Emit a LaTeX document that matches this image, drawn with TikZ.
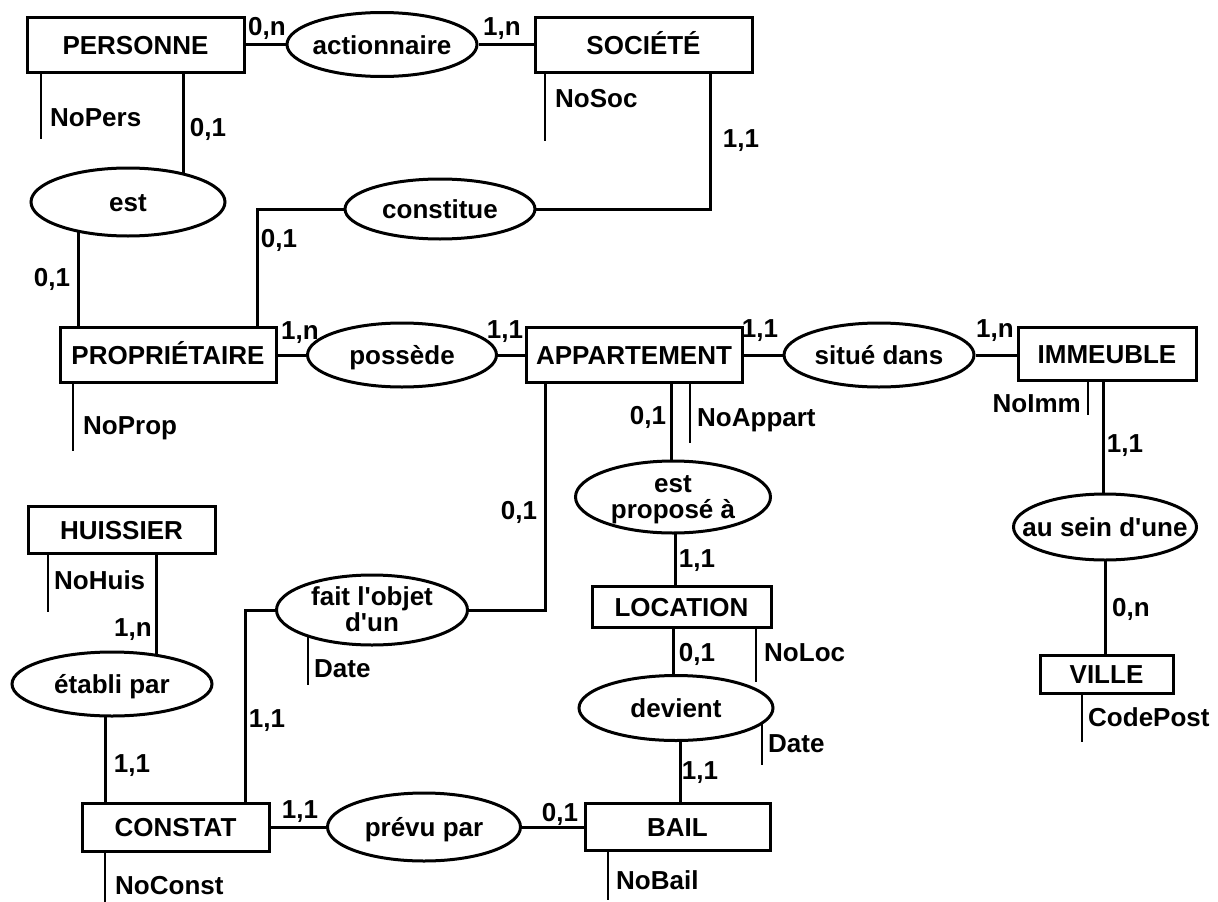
\documentclass[tikz,border=0pt]{standalone}
\usepackage{fontspec}
\setmainfont{Liberation Sans}
\usetikzlibrary{shapes.geometric,backgrounds}
\newcommand\dfont{\fontsize{26}{23}\selectfont\bfseries}
\newcommand\rt[1]{\makebox[0pt]{\begin{tabular}[b]{@{}c@{}}#1\end{tabular}}}
\tikzset{
  ent/.style={draw, line width=3pt, fill=white, inner sep=0pt, font=\dfont, text height=19pt, text depth=0pt},
  rel/.style={ellipse, draw, line width=3pt, fill=white, inner sep=0pt, font=\dfont, text height=19pt, text depth=0pt},
  tworow/.style={text height=42pt},
  link/.style={line width=3pt},
  attrline/.style={line width=1.5pt},
  card/.style={inner sep=0pt, font=\dfont, text height=19pt, text depth=0pt},
  attr/.style={inner sep=0pt, anchor=west, font=\dfont, text height=19pt, text depth=0pt}
}
\begin{document}
\begin{tikzpicture}[x=1pt,y=-1pt]
\useasboundingbox (0,0) rectangle (1218,902);
% entities
\node[ent, minimum width=217pt, minimum height=55pt] (personne) at (135.5,44.5) {PERSONNE};
\node[ent, minimum width=217pt, minimum height=55pt] (societe) at (643.5,44.5) {SOCIÉTÉ};
\node[ent, minimum width=216pt, minimum height=55pt] (proprio) at (168,355) {PROPRIÉTAIRE};
\node[ent, minimum width=216pt, minimum height=55pt] (appart) at (634,355) {APPARTEMENT};
\node[ent, minimum width=178pt, minimum height=53pt] (immeuble) at (1107,354) {IMMEUBLE};
\node[ent, minimum width=187pt, minimum height=47pt] (huissier) at (121.5,529.5) {HUISSIER};
\node[ent, minimum width=179pt, minimum height=41pt] (location) at (681.5,606.5) {LOCATION};
\node[ent, minimum width=133pt, minimum height=38pt] (ville) at (1106.5,674) {VILLE};
\node[ent, minimum width=187pt, minimum height=48pt] (constat) at (175.5,827) {CONSTAT};
\node[ent, minimum width=185pt, minimum height=47pt] (bail) at (677.5,827) {BAIL};
% relationships
\node[rel, minimum width=190pt, minimum height=64pt] (actionnaire) at (382,44.5) {\rt{actionnaire}};
\node[rel, minimum width=194pt, minimum height=68pt] (est) at (128,202) {\rt{est}};
\node[rel, minimum width=190pt, minimum height=60pt] (constitue) at (440,209) {\rt{constitue}};
\node[rel, minimum width=189pt, minimum height=64pt] (possede) at (402,355) {\rt{possède}};
\node[rel, minimum width=190pt, minimum height=64pt] (situe) at (879,355) {\rt{situé dans}};
\node[rel, tworow, minimum width=195pt, minimum height=72pt] (propose) at (673,497) {\rt{est\\proposé à}};
\node[rel, minimum width=183pt, minimum height=66pt] (ausein) at (1105,527) {\rt{au sein d\textquotesingle une}};
\node[rel, tworow, minimum width=191pt, minimum height=70pt] (objet) at (372,610) {\rt{fait l\textquotesingle objet\\d\textquotesingle un}};
\node[rel, minimum width=200pt, minimum height=64pt] (etabli) at (112,684) {\rt{établi par}};
\node[rel, minimum width=194pt, minimum height=65pt] (devient) at (676,708) {\rt{devient}};
\node[rel, minimum width=193pt, minimum height=68pt] (prevu) at (424,827) {\rt{prévu par}};
% attributes
\node[attr] (nopers) at (50,117) {NoPers};
\node[attr] (nosoc) at (555,98) {NoSoc};
\node[attr] (noprop) at (83,425) {NoProp};
\node[attr] (noappart) at (697,417) {NoAppart};
\node[attr, anchor=east] (noimm) at (1081,403) {NoImm};
\node[attr] (nohuis) at (54,580) {NoHuis};
\node[attr] (date1) at (314,668) {Date};
\node[attr] (noloc) at (764,652) {NoLoc};
\node[attr] (date2) at (768,743) {Date};
\node[attr] (codepost) at (1088,717) {CodePost};
\node[attr] (noconst) at (115,885) {NoConst};
\node[attr] (nobail) at (616,880) {NoBail};
% cardinalities
\node[card] (c1) at (267,26) {0,n};
\node[card] (c2) at (502,26) {1,n};
\node[card] (c3) at (208,127) {0,1};
\node[card] (c4) at (741,138) {1,1};
\node[card] (c5) at (279,238) {0,1};
\node[card] (c6) at (52,277) {0,1};
\node[card] (c7) at (300,330) {1,n};
\node[card] (c8) at (505,329) {1,1};
\node[card] (c9) at (760,328) {1,1};
\node[card] (c10) at (995,328) {1,n};
\node[card] (c11) at (648,415) {0,1};
\node[card] (c12) at (1125,443) {1,1};
\node[card] (c13) at (519,510) {0,1};
\node[card] (c14) at (697,558) {1,1};
\node[card] (c15) at (133,627) {1,n};
\node[card] (c16) at (697,652) {0,1};
\node[card] (c17) at (1131,607) {0,n};
\node[card] (c18) at (267,718) {1,1};
\node[card] (c19) at (132,763) {1,1};
\node[card] (c20) at (700,770) {1,1};
\node[card] (c21) at (300,809) {1,1};
\node[card] (c22) at (560,812) {0,1};
% reference x positions
\coordinate (xPE) at (183,0);
\coordinate (xEP) at (78,0);
\coordinate (xSC) at (710,0);
\coordinate (xCP) at (257,0);
\coordinate (xAO) at (545,0);
\coordinate (xOC) at (245,0);
\coordinate (xHE) at (156,0);
\coordinate (xEC) at (105,0);
\coordinate (xAP) at (671,0);
\coordinate (xPL) at (675,0);
\coordinate (xLD) at (673,0);
\coordinate (xDB) at (680,0);
\coordinate (xIA) at (1103,0);
\coordinate (xAV) at (1105,0);
\coordinate (aNP) at (41,0);
\coordinate (aNS) at (545,0);
\coordinate (aNR) at (73,0);
\coordinate (aNA) at (690,0);
\coordinate (aNI) at (1088,0);
\coordinate (aNH) at (48,0);
\coordinate (aD1) at (308,0);
\coordinate (aNL) at (756,0);
\coordinate (aD2) at (762,0);
\coordinate (aCP) at (1082,0);
\coordinate (aNC) at (105,0);
\coordinate (aNB) at (608,0);
\begin{pgfonlayer}{background}
\fill[white] (0,0) rectangle (1218,902);
% connectors
\draw[link] (personne) -- (actionnaire) -- (societe);
\draw[link] (xPE |- personne.south) -- (xPE |- est.center);
\draw[link] (xEP |- est.center) -- (xEP |- proprio.north);
\draw[link] (xSC |- societe.south) |- (constitue.center);
\draw[link] (constitue.center) -| (xCP |- proprio.north);
\draw[link] (proprio) -- (possede) -- (appart) -- (situe) -- (situe -| immeuble.west);
\draw[link] (xAP |- appart.south) -- (xAP |- propose.center);
\draw[link] (xPL |- propose.center) -- (xPL |- location.north);
\draw[link] (xLD |- location.south) -- (xLD |- devient.center);
\draw[link] (xDB |- devient.center) -- (xDB |- bail.north);
\draw[link] (xAO |- appart.south) |- (objet.center);
\draw[link] (objet.center) -| (xOC |- constat.north);
\draw[link] (xHE |- huissier.south) -- (xHE |- etabli.center);
\draw[link] (xEC |- etabli.center) -- (xEC |- constat.north);
\draw[link] (constat) -- (prevu) -- (bail);
\draw[link] (xIA |- immeuble.south) -- (xIA |- ausein.center);
\draw[link] (xAV |- ausein.center) -- (xAV |- ville.north);
% attribute lines
\draw[attrline] (aNP |- personne.south) -- ++(0,65);
\draw[attrline] (aNS |- societe.south) -- ++(0,67);
\draw[attrline] (aNR |- proprio.south) -- ++(0,67);
\draw[attrline] (aNA |- appart.south) -- ++(0,59);
\draw[attrline] (aNI |- immeuble.south) -- ++(0,33);
\draw[attrline] (aNH |- huissier.south) -- ++(0,57);
\draw[attrline] (aD1 |- objet.center) -- ++(0,75);
\draw[attrline] (aNL |- location.south) -- ++(0,53);
\draw[attrline] (aD2 |- devient.center) -- ++(0,57);
\draw[attrline] (aCP |- ville.south) -- ++(0,47);
\draw[attrline] (aNC |- constat.south) -- ++(0,50);
\draw[attrline] (aNB |- bail.south) -- ++(0,48);
\end{pgfonlayer}
\end{tikzpicture}
\end{document}
